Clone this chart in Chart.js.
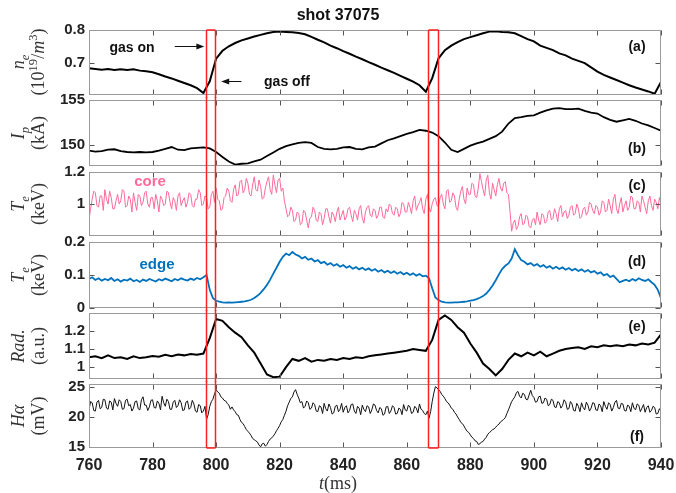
<!DOCTYPE html>
<html>
<head>
<meta charset="utf-8">
<script src="https://cdn.jsdelivr.net/npm/chart.js@4.4.0/dist/chart.umd.min.js"></script>
<style>
  body { margin: 0; background: #fff; }
  #fig { position: relative; width: 676px; height: 493px; overflow: hidden; font-family: 'Liberation Sans', Arial, sans-serif; }
  #fig canvas { position: absolute; left: 0; }
  .txt { position: absolute; white-space: nowrap; transform: translate(-50%, -50%); line-height: 1; }
  .bold { font-weight: bold; color: #111; }
  .ylab { position: absolute; white-space: nowrap; transform: translate(-50%, -50%) rotate(-90deg);
          font-family: 'Liberation Serif', 'DejaVu Serif', serif; font-size: 18px; color: #333; line-height: 1; }
  .ylab i, .xlab i { font-style: italic; }
  .xlab { position: absolute; white-space: nowrap; transform: translate(-50%, -50%);
          font-family: 'Liberation Serif', 'DejaVu Serif', serif; font-size: 18px; color: #333; line-height: 1; }
  sub, sup { font-size: 70%; line-height: 0; }
</style>
</head>
<body>
<div id="fig">
  <canvas id="c0" width="676" height="109" style="top:0px"></canvas>
  <canvas id="c1" width="676" height="94" style="top:86px"></canvas>
  <canvas id="c2" width="676" height="92" style="top:158px"></canvas>
  <canvas id="c3" width="676" height="94" style="top:228px"></canvas>
  <canvas id="c4" width="676" height="94" style="top:299px"></canvas>
  <canvas id="c5" width="676" height="123" style="top:370px"></canvas>

  <div class="txt bold" style="left:338px;top:15px;font-size:16px">shot 37075</div>
  <div class="txt bold" style="left:132px;top:47px;font-size:14px">gas on</div>
  <div class="txt bold" style="left:287px;top:81px;font-size:14px">gas off</div>
  <div class="txt bold" style="left:150px;top:180px;font-size:15px;color:#ff6a9a">core</div>
  <div class="txt bold" style="left:157px;top:263px;font-size:15px;color:#0072bd">edge</div>

  <div class="txt bold" style="left:637px;top:46px;font-size:14px">(a)</div>
  <div class="txt bold" style="left:637px;top:148px;font-size:14px">(b)</div>
  <div class="txt bold" style="left:637px;top:185px;font-size:14px">(c)</div>
  <div class="txt bold" style="left:637px;top:261px;font-size:14px">(d)</div>
  <div class="txt bold" style="left:637px;top:326px;font-size:14px">(e)</div>
  <div class="txt bold" style="left:637px;top:436px;font-size:14px">(f)</div>

  <div class="ylab" style="left:18px;top:62px"><i>n<sub>e</sub></i></div>
  <div class="ylab" style="left:38px;top:62px">(10<sup>19</sup>/<i>m</i><sup>3</sup>)</div>
  <div class="ylab" style="left:18px;top:133px"><i>I<sub>p</sub></i></div>
  <div class="ylab" style="left:38px;top:133px">(kA)</div>
  <div class="ylab" style="left:18px;top:204px"><i>T<sub>e</sub></i></div>
  <div class="ylab" style="left:38px;top:204px">(keV)</div>
  <div class="ylab" style="left:18px;top:275px"><i>T<sub>e</sub></i></div>
  <div class="ylab" style="left:38px;top:275px">(keV)</div>
  <div class="ylab" style="left:18px;top:346px"><i>Rad.</i></div>
  <div class="ylab" style="left:38px;top:346px">(a.u.)</div>
  <div class="ylab" style="left:18px;top:416px"><i>H&alpha;</i></div>
  <div class="ylab" style="left:38px;top:416px">(mV)</div>

  <div class="xlab" style="left:338px;top:483px"><i>t</i>(ms)</div>
</div>

<script>
// time axis (ms)
const tStart = 760;
const tEnd = 940;
const xTicks = [760, 780, 800, 820, 840, 860, 880, 900, 920, 940];

// gas puff windows (ms)
const gasWindows = [[796.7, 799.7], [866.8, 869.7]];

// n_e (1e19/m^3), every 2 ms
const neDensity = [
  0.682, 0.680, 0.678, 0.680, 0.677, 0.679, 0.677, 0.679, 0.675, 0.673,
  0.670, 0.664, 0.657, 0.651, 0.644, 0.637, 0.630, 0.621, 0.606, 0.642,
  0.712, 0.736, 0.750, 0.760, 0.768, 0.774, 0.780, 0.785, 0.790, 0.794,
  0.795, 0.794, 0.793, 0.791, 0.787, 0.779, 0.770, 0.762, 0.752, 0.744,
  0.735, 0.727, 0.718, 0.710, 0.701, 0.693, 0.684, 0.676, 0.668, 0.659,
  0.650, 0.641, 0.630, 0.610, 0.652, 0.713, 0.738, 0.752, 0.763, 0.772,
  0.778, 0.784, 0.790, 0.795, 0.796, 0.794, 0.793, 0.790, 0.781, 0.772,
  0.765, 0.752, 0.745, 0.738, 0.728, 0.722, 0.712, 0.705, 0.698, 0.685,
  0.672, 0.662, 0.654, 0.646, 0.638, 0.630, 0.623, 0.617, 0.611, 0.604,
  0.640
];

// I_p (kA), every 2 ms
const plasmaCurrent = [
  149.40, 149.30, 149.35, 149.50, 149.55, 149.35, 149.25, 149.20, 149.25, 149.20,
  149.25, 149.40, 149.60, 149.80, 149.50, 149.45, 149.65, 149.70, 149.75, 149.65,
  149.25, 148.70, 148.20, 147.85, 147.95, 148.00, 148.20, 148.40, 148.80, 149.20,
  149.60, 149.90, 150.10, 150.25, 150.35, 150.25, 149.80, 149.60, 149.55, 149.60,
  149.75, 149.80, 149.60, 149.55, 149.75, 149.85, 150.20, 150.55, 150.75, 151.00,
  151.25, 151.45, 151.70, 151.60, 151.40, 151.00, 150.30, 149.50, 149.25, 149.60,
  149.95, 150.20, 150.40, 150.70, 151.00, 151.50, 152.40, 153.00, 153.10, 153.25,
  153.30, 153.60, 153.85, 154.05, 154.10, 154.00, 154.00, 154.05, 153.80, 153.60,
  153.50, 153.10, 152.80, 152.60, 152.75, 152.90, 152.70, 152.40, 152.20, 151.90,
  151.60
];

// core T_e (keV), every 0.5 ms
const coreTe = [
  0.90, 0.97, 1.03, 1.08, 1.07, 0.99, 0.98, 1.05, 1.05, 0.96, 1.09, 1.03, 1.00, 1.08, 1.04, 0.97, 0.97, 1.02, 1.06, 1.00,
  1.02, 1.09, 1.08, 0.98, 0.99, 1.05, 1.03, 0.95, 1.07, 1.01, 0.96, 1.06, 1.05, 0.99, 1.01, 1.07, 1.08, 1.00, 0.98, 1.04,
  1.04, 0.97, 1.06, 1.02, 0.95, 1.05, 1.03, 0.99, 1.00, 1.08, 1.07, 1.01, 0.97, 1.04, 1.02, 0.96, 1.05, 1.07, 0.99, 1.02,
  1.04, 0.98, 1.01, 1.07, 1.06, 0.99, 0.98, 1.03, 1.03, 1.09, 1.07, 0.99, 1.00, 1.05, 1.04, 0.97, 0.98, 1.06, 1.08, 1.01,
  1.10, 1.03, 1.02, 0.96, 0.97, 1.04, 1.05, 1.10, 1.08, 1.02, 1.01, 1.09, 1.12, 1.05, 1.06, 1.14, 1.15, 1.07, 1.09, 1.16,
  1.13, 1.06, 1.05, 1.12, 1.17, 1.09, 1.08, 1.15, 1.11, 1.03, 1.04, 1.10, 1.14, 1.17, 1.09, 1.06, 1.18, 1.12, 1.07, 1.15,
  1.16, 1.08, 1.10, 1.02, 0.97, 0.92, 0.93, 0.98, 0.96, 0.89, 0.90, 0.95, 0.94, 0.87, 0.88, 0.96, 0.95, 0.90, 0.85, 0.91,
  0.92, 0.98, 0.96, 0.90, 0.89, 0.95, 0.94, 0.87, 0.91, 0.97, 0.97, 0.92, 0.88, 0.95, 0.93, 0.89, 0.95, 0.98, 0.90, 0.93,
  0.96, 0.90, 0.92, 0.97, 0.98, 0.93, 0.89, 0.96, 0.94, 0.90, 0.97, 0.99, 0.91, 0.88, 0.95, 0.98, 0.99, 0.93, 0.92, 0.97,
  0.96, 0.91, 0.93, 0.98, 0.98, 0.92, 0.91, 0.97, 0.95, 1.00, 0.99, 0.94, 0.93, 0.98, 0.97, 0.92, 0.94, 1.01, 1.00, 0.95,
  0.95, 1.01, 0.98, 0.94, 1.02, 1.05, 0.96, 0.99, 1.01, 1.04, 0.97, 0.94, 1.03, 1.06, 0.98, 0.95, 1.00, 1.03, 1.04, 0.99,
  0.99, 1.04, 1.06, 1.00, 0.97, 1.08, 1.09, 1.01, 1.02, 1.07, 1.05, 0.98, 0.96, 1.03, 1.08, 1.11, 1.03, 1.00, 1.10, 1.06,
  1.06, 1.13, 1.12, 1.05, 1.04, 1.10, 1.19, 1.14, 1.09, 1.05, 1.15, 1.18, 1.07, 1.03, 1.13, 1.09, 1.05, 1.12, 1.16, 1.10,
  1.08, 1.13, 1.14, 1.07, 1.06, 0.95, 0.83, 0.88, 0.90, 0.84, 0.86, 0.92, 0.94, 0.87, 0.88, 0.93, 0.92, 0.86, 0.85, 0.90,
  0.91, 0.87, 0.95, 0.90, 0.87, 0.94, 0.93, 0.88, 0.89, 0.95, 0.96, 0.90, 0.91, 0.97, 0.94, 0.89, 0.97, 0.99, 0.92, 0.95,
  0.96, 0.91, 0.93, 0.98, 0.99, 0.93, 0.94, 1.00, 0.97, 0.91, 0.92, 0.97, 0.98, 0.93, 0.95, 1.01, 1.00, 0.96, 0.94, 0.99,
  0.98, 0.93, 0.95, 1.02, 1.01, 0.95, 0.96, 1.03, 0.99, 0.94, 1.03, 1.06, 0.97, 0.94, 1.00, 1.04, 0.95, 0.99, 1.02, 0.96,
  0.98, 1.05, 1.04, 0.97, 0.97, 1.02, 1.01, 0.95, 1.05, 1.02, 0.98, 0.94, 1.02, 1.05, 0.99, 0.96, 1.03, 1.01, 0.97, 1.04,
  1.00
];

// edge T_e (keV), every 1 ms
const edgeTe = [
  0.088, 0.093, 0.085, 0.090, 0.083, 0.088, 0.084, 0.091, 0.082, 0.087,
  0.080, 0.086, 0.083, 0.089, 0.081, 0.085, 0.079, 0.086, 0.082, 0.088,
  0.084, 0.080, 0.087, 0.083, 0.089, 0.085, 0.081, 0.088, 0.084, 0.090,
  0.086, 0.083, 0.089, 0.085, 0.091, 0.087, 0.093, 0.100, 0.055, 0.030,
  0.022, 0.019, 0.017, 0.016, 0.017, 0.016, 0.017, 0.018, 0.019, 0.020,
  0.022, 0.025, 0.030, 0.037, 0.046, 0.057, 0.070, 0.086, 0.104, 0.122,
  0.140, 0.155, 0.165, 0.160, 0.170, 0.162, 0.158, 0.150, 0.155, 0.146,
  0.150, 0.141, 0.145, 0.136, 0.140, 0.131, 0.136, 0.128, 0.133, 0.125,
  0.130, 0.122, 0.127, 0.119, 0.124, 0.117, 0.122, 0.115, 0.120, 0.113,
  0.118, 0.110, 0.115, 0.108, 0.113, 0.106, 0.111, 0.104, 0.109, 0.102,
  0.107, 0.100, 0.105, 0.098, 0.103, 0.096, 0.098, 0.090, 0.060, 0.032,
  0.024, 0.019, 0.017, 0.016, 0.016, 0.017, 0.017, 0.018, 0.019, 0.020,
  0.022, 0.024, 0.027, 0.031, 0.036, 0.044, 0.055, 0.068, 0.084, 0.102,
  0.118, 0.128, 0.135, 0.150, 0.178, 0.160, 0.145, 0.140, 0.132, 0.136,
  0.128, 0.133, 0.125, 0.130, 0.122, 0.127, 0.119, 0.125, 0.118, 0.123,
  0.116, 0.121, 0.114, 0.119, 0.112, 0.117, 0.110, 0.115, 0.108, 0.112,
  0.104, 0.108, 0.099, 0.103, 0.094, 0.098, 0.088, 0.078, 0.082, 0.086,
  0.081, 0.088, 0.083, 0.090, 0.085, 0.082, 0.087, 0.078, 0.070, 0.055,
  0.030
];

// radiation (a.u.), every 2 ms
const radiation = [
  1.055, 1.060, 1.050, 1.065, 1.050, 1.055, 1.045, 1.060, 1.050, 1.055,
  1.062, 1.058, 1.068, 1.060, 1.070, 1.065, 1.072, 1.068, 1.075, 1.160,
  1.265, 1.255, 1.220, 1.190, 1.165, 1.120, 1.080, 1.020, 0.960, 0.945,
  0.948, 1.000, 1.045, 1.035, 1.050, 1.030, 1.040, 1.035, 1.045, 1.040,
  1.050, 1.045, 1.055, 1.050, 1.060, 1.065, 1.070, 1.075, 1.080, 1.085,
  1.090, 1.100, 1.095, 1.090, 1.150, 1.260, 1.285, 1.260, 1.220, 1.190,
  1.130, 1.080, 1.020, 0.990, 0.955, 0.990, 1.040, 1.075, 1.060, 1.080,
  1.065, 1.085, 1.060, 1.075, 1.090, 1.100, 1.105, 1.110, 1.100, 1.115,
  1.110, 1.120, 1.115, 1.120, 1.115, 1.125, 1.120, 1.130, 1.125, 1.135,
  1.180
];

// H-alpha (mV), every 0.5 ms
const hAlpha = [
  21.2, 22.6, 22.4, 21.1, 21.0, 22.5, 22.8, 21.4, 21.6, 23.0, 22.9, 21.5, 21.3, 22.7, 22.5, 21.2, 23.1, 22.3, 21.8, 22.9,
  22.6, 21.3, 21.4, 22.8, 23.0, 21.9, 22.1, 21.0, 21.5, 22.6, 22.7, 21.4, 21.2, 22.9, 23.4, 22.0, 22.0, 21.1, 21.7, 22.8,
  22.9, 21.6, 21.5, 22.7, 22.3, 21.2, 23.5, 22.4, 21.8, 23.0, 22.6, 21.3, 21.3, 22.5, 22.8, 21.6, 21.9, 22.9, 22.4, 21.1,
  21.2, 22.5, 22.7, 21.3, 21.6, 22.8, 22.2, 21.0, 20.8, 22.1, 21.9, 20.7, 21.0, 21.8, 19.6, 20.4, 21.8, 22.6, 23.0, 23.9,
  24.6, 24.2, 24.0, 23.4, 23.2, 22.8, 22.7, 22.3, 22.0, 21.3, 21.7, 21.2, 20.9, 20.4, 20.3, 19.6, 19.1, 18.9, 18.4, 17.9,
  17.6, 17.3, 16.9, 16.4, 16.2, 16.0, 15.8, 15.3, 15.0, 15.5, 15.6, 15.1, 15.4, 15.9, 16.3, 16.5, 16.8, 17.2, 17.7, 18.1,
  18.6, 19.2, 19.6, 20.3, 21.0, 21.9, 22.5, 23.1, 23.4, 24.2, 24.6, 23.8, 23.2, 22.4, 22.6, 21.5, 21.8, 22.7, 22.4, 21.3,
  21.5, 22.4, 22.1, 21.0, 20.9, 21.9, 21.7, 20.6, 22.3, 21.4, 21.0, 22.2, 21.6, 20.5, 20.7, 21.8, 22.0, 20.9, 21.3, 22.3,
  20.8, 21.6, 21.9, 20.7, 21.1, 22.1, 22.2, 21.0, 20.6, 21.8, 21.5, 20.4, 22.0, 21.3, 20.9, 21.9, 21.7, 20.6, 21.2, 22.2,
  22.0, 21.1, 20.7, 21.6, 21.4, 20.3, 20.5, 21.7, 21.8, 20.6, 21.0, 21.9, 21.6, 20.5, 20.6, 21.5, 21.3, 20.4, 22.1, 21.2,
  21.0, 22.0, 21.7, 20.6, 20.8, 21.8, 21.5, 20.7, 22.2, 21.3, 21.1, 20.6, 20.4, 21.0, 19.8, 20.9, 22.6, 24.0, 25.1, 24.9,
  24.6, 24.3, 23.8, 23.5, 23.1, 22.6, 22.4, 22.0, 21.5, 21.3, 20.8, 20.5, 20.0, 19.6, 19.1, 18.9, 18.5, 18.0, 17.6, 17.4,
  17.0, 16.6, 16.4, 16.0, 15.9, 15.4, 15.5, 15.8, 15.9, 16.3, 16.6, 17.1, 17.4, 17.6, 17.9, 18.0, 18.3, 18.6, 18.8, 19.2,
  19.4, 19.6, 19.9, 20.6, 21.2, 21.9, 22.6, 23.0, 23.4, 24.1, 24.3, 23.5, 23.2, 24.0, 23.8, 23.0, 22.9, 23.7, 24.5, 23.6,
  23.3, 22.5, 22.6, 23.4, 23.5, 22.3, 22.4, 23.2, 23.0, 21.9, 22.1, 23.0, 22.8, 21.7, 21.6, 22.6, 22.4, 21.5, 21.9, 22.9,
  22.5, 21.3, 21.4, 22.6, 22.2, 21.1, 21.0, 22.3, 21.8, 20.9, 22.4, 21.6, 21.2, 22.5, 22.0, 21.0, 21.5, 22.4, 22.3, 21.2,
  21.1, 22.2, 21.9, 20.9, 22.6, 21.8, 21.3, 22.4, 22.1, 21.0, 21.6, 22.5, 22.8, 21.5, 21.4, 22.3, 22.2, 21.1, 21.0, 22.0,
  21.8, 20.9, 22.4, 21.5, 21.2, 22.2, 22.0, 20.9, 21.5, 22.1, 20.8, 21.6, 21.9, 20.8, 21.1, 21.8, 21.6, 20.5, 20.6, 21.4,
  21.0
];

// "gas on" / "gas off" arrows in panel (a): [fromMs, toMs, level]
const gasArrows = [[787, 796.3, 0.752], [808, 801.6, 0.642]];

function toPoints(values, step) {
  return values.map((v, i) => ({ x: tStart + i * step, y: v }));
}

const TICK_FONT = { family: "'Liberation Sans', Arial, sans-serif", size: 15, weight: 'bold' };

// draws box, inward ticks, red gas windows and arrows
const framePlugin = {
  id: 'frame',
  afterDatasetsDraw(chart, args, opts) {
    const { ctx, chartArea: a, scales: { x, y } } = chart;
    const L = Math.round(a.left) + 0.5, R = Math.round(a.right) - 0.5;
    const T = Math.round(a.top) + 0.5, B = Math.round(a.bottom) - 0.5;
    ctx.save();

    ctx.strokeStyle = '#555';
    ctx.lineWidth = 1;
    ctx.beginPath();
    xTicks.forEach(v => {
      const px = Math.round(x.getPixelForValue(v)) + 0.5;
      ctx.moveTo(px, T); ctx.lineTo(px, T + 5);
      ctx.moveTo(px, B); ctx.lineTo(px, B - 5);
    });
    opts.yTicks.forEach(v => {
      const py = Math.round(y.getPixelForValue(v)) + 0.5;
      ctx.moveTo(L, py); ctx.lineTo(L + 5, py);
      ctx.moveTo(R, py); ctx.lineTo(R - 5, py);
    });
    ctx.stroke();

    ctx.strokeStyle = '#9a9a9a';
    ctx.strokeRect(L, T, R - L, B - T);

    // arrows (panel a only)
    (opts.arrows || []).forEach(([from, to, level]) => {
      const x0 = x.getPixelForValue(from), x1 = x.getPixelForValue(to);
      const py = Math.round(y.getPixelForValue(level)) + 0.5;
      const dir = Math.sign(x1 - x0);
      ctx.strokeStyle = '#111';
      ctx.fillStyle = '#111';
      ctx.lineWidth = 1;
      ctx.beginPath();
      ctx.moveTo(x0, py); ctx.lineTo(x1 - dir * 6, py);
      ctx.stroke();
      ctx.beginPath();
      ctx.moveTo(x1, py);
      ctx.lineTo(x1 - dir * 8, py - 3);
      ctx.lineTo(x1 - dir * 8, py + 3);
      ctx.closePath();
      ctx.fill();
    });

    // red gas windows; each panel covers its own slice of the gaps
    const top = opts.first ? a.top : a.top - 3;
    const bottom = opts.last ? a.bottom : a.bottom + 3;
    ctx.strokeStyle = '#ff2020';
    ctx.lineWidth = 1.5;
    gasWindows.forEach(([t0, t1]) => {
      const x0 = Math.round(x.getPixelForValue(t0)) + 0.5;
      const x1 = Math.round(x.getPixelForValue(t1)) + 0.5;
      ctx.beginPath();
      ctx.moveTo(x0, top); ctx.lineTo(x0, bottom);
      ctx.moveTo(x1, top); ctx.lineTo(x1, bottom);
      if (opts.first) { ctx.moveTo(x0, top); ctx.lineTo(x1, top); }
      if (opts.last) { ctx.moveTo(x0, bottom); ctx.lineTo(x1, bottom); }
      ctx.stroke();
    });
    ctx.restore();
  }
};

const panels = [
  { values: neDensity, step: 2, color: '#000', width: 2, min: 0.6, max: 0.8, ticks: [0.7, 0.8], pad: [30, 14] },
  { values: plasmaCurrent, step: 2, color: '#000', width: 1.8, min: 147.7, max: 155, ticks: [150, 155], pad: [14, 14] },
  { values: coreTe, step: 0.5, color: '#ff6a9a', width: 1, min: 0.8, max: 1.2, ticks: [1, 1.2], pad: [14, 14] },
  { values: edgeTe, step: 1, color: '#0072bd', width: 1.8, min: 0, max: 0.2, ticks: [0, 0.1, 0.2], pad: [14, 14] },
  { values: radiation, step: 2, color: '#000', width: 2, min: 0.935, max: 1.298, ticks: [1, 1.1, 1.2], pad: [14, 14] },
  { values: hAlpha, step: 0.5, color: '#111', width: 1, min: 14.8, max: 25.55, ticks: [15, 20, 25], pad: [14, 0] }
];

panels.forEach((p, idx) => {
  const last = idx === panels.length - 1;
  new Chart(document.getElementById('c' + idx), {
    type: 'line',
    data: {
      datasets: [{
        data: toPoints(p.values, p.step),
        borderColor: p.color,
        borderWidth: p.width,
        pointRadius: 0,
        tension: 0,
        fill: false
      }]
    },
    options: {
      responsive: false,
      animation: false,
      events: [],
      layout: { autoPadding: false, padding: { top: p.pad[0], bottom: p.pad[1], left: 0, right: 15 } },
      plugins: {
        legend: { display: false },
        tooltip: { enabled: false },
        frame: { yTicks: p.ticks, first: idx === 0, last: last, arrows: idx === 0 ? gasArrows : [] }
      },
      scales: {
        x: {
          type: 'linear',
          min: tStart,
          max: tEnd,
          display: last,
          grid: { display: false, drawTicks: false },
          border: { display: false },
          afterBuildTicks: s => { s.ticks = xTicks.map(v => ({ value: v })); },
          afterFit: s => {
            s.height = last ? 45 : 0;
            s.paddingLeft = 0;
            s.paddingRight = 0;
          },
          ticks: { font: { ...TICK_FONT, size: 16 }, color: '#222', padding: 8, maxRotation: 0, autoSkip: false, callback: v => String(v) }
        },
        y: {
          min: p.min,
          max: p.max,
          grid: { display: false, drawTicks: false },
          border: { display: false },
          afterBuildTicks: s => { s.ticks = p.ticks.map(v => ({ value: v })); },
          afterFit: s => {
            s.width = 89;
            s.paddingTop = 0;
            s.paddingBottom = 0;
          },
          ticks: { font: TICK_FONT, color: '#222', padding: 4, autoSkip: false, callback: v => String(v) }
        }
      }
    },
    plugins: [framePlugin]
  });
});
</script>
</body>
</html>
